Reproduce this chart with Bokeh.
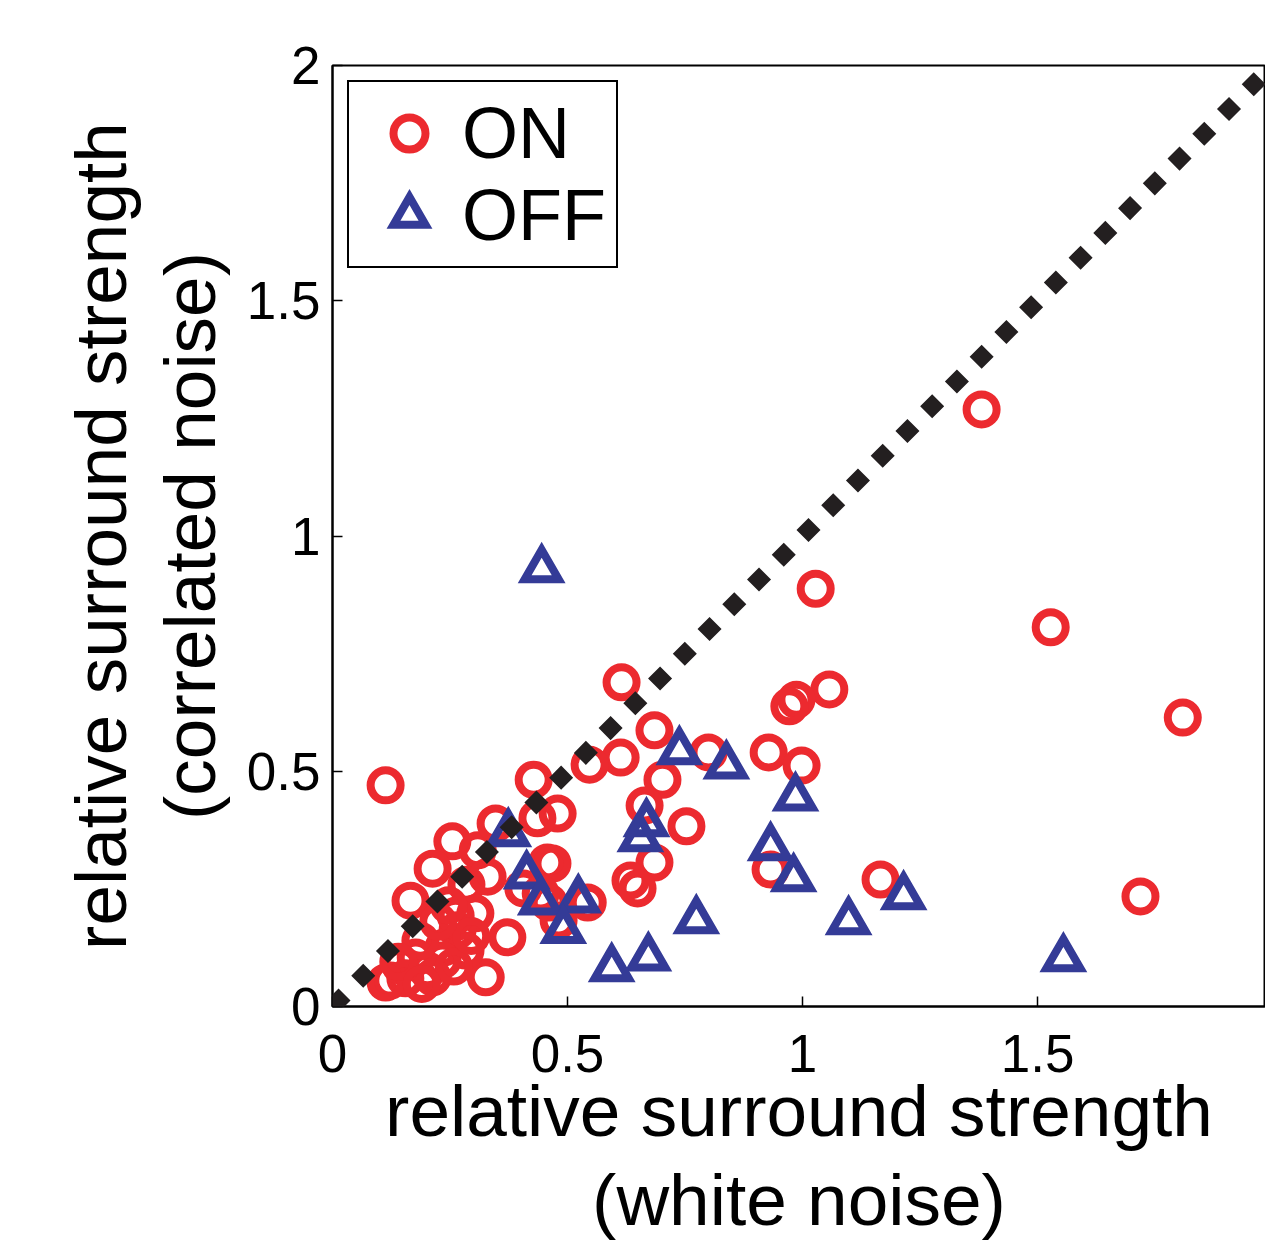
from bokeh.plotting import figure
from bokeh.models import Range1d, FixedTicker, Slope, Legend, LegendItem
from bokeh.embed import file_html
from bokeh.resources import INLINE

# ---- data ----
on_x = [1.381, 1.028, 1.528, 1.809, 1.719, 1.057, 0.987, 0.972, 0.615, 0.685,
        0.800, 0.928, 0.998, 0.613, 0.547, 0.702, 0.428, 0.664, 0.753, 0.113,
        0.932, 1.166, 0.685, 0.634, 0.649, 0.479, 0.436, 0.372, 0.326, 0.457,
        0.255, 0.309, 0.213, 0.347, 0.285, 0.166, 0.304, 0.266, 0.236, 0.283,
        0.177, 0.202, 0.234, 0.123, 0.155, 0.213, 0.145, 0.187, 0.406, 0.460,
        0.481, 0.543, 0.468, 0.443, 0.262, 0.113, 0.247, 0.330, 0.140, 0.258,
        0.190, 0.295, 0.225]
on_y = [1.269, 0.888, 0.806, 0.614, 0.234, 0.674, 0.652, 0.638, 0.689, 0.587,
        0.540, 0.540, 0.512, 0.529, 0.514, 0.482, 0.482, 0.427, 0.383, 0.470,
        0.291, 0.270, 0.306, 0.268, 0.251, 0.410, 0.400, 0.147, 0.062, 0.306,
        0.351, 0.332, 0.293, 0.389, 0.259, 0.225, 0.198, 0.162, 0.125, 0.119,
        0.104, 0.077, 0.098, 0.055, 0.060, 0.062, 0.087, 0.140, 0.251, 0.221,
        0.183, 0.221, 0.304, 0.240, 0.193, 0.051, 0.215, 0.276, 0.095, 0.085,
        0.048, 0.150, 0.180]

off_x = [0.445, 0.738, 0.838, 0.985, 0.668, 0.655, 0.932, 0.981, 0.774, 0.672,
         0.594, 0.374, 0.413, 0.523, 0.443, 0.491, 1.098, 1.215, 1.555]
off_y = [0.929, 0.542, 0.512, 0.444, 0.389, 0.357, 0.338, 0.272, 0.183, 0.104,
         0.081, 0.368, 0.278, 0.227, 0.223, 0.162, 0.181, 0.234, 0.102]

x_ticks = [0, 0.5, 1, 1.5, 2]
x_tick_labels = ["0", "0.5", "1", "1.5", "2"]
y_ticks = [0, 0.5, 1, 1.5, 2]
y_tick_labels = ["0", "0.5", "1", "1.5", "2"]

x_label = "relative surround strength\n(white noise)"
y_label = "relative surround strength\n(correlated noise)"
series_labels = ["ON", "OFF"]

RED = "#EC2A2F"
BLUE = "#343B97"
DARK = "#231F20"
FONT = "Liberation Sans"

p = figure(width=1265, height=1242,
           x_range=Range1d(0, 1.985), y_range=Range1d(0, 2),
           output_backend="svg", toolbar_location=None,
           min_border_left=332, min_border_right=0,
           min_border_top=65, min_border_bottom=236)

p.grid.visible = False
p.background_fill_color = "white"
p.border_fill_color = "white"
p.outline_line_color = "black"
p.outline_line_width = 2

def style_axis(ax, ticks, labels):
    ax.ticker = FixedTicker(ticks=ticks)
    ax.major_label_overrides = {t: l for t, l in zip(ticks, labels)}
    ax.major_tick_in = 10
    ax.major_tick_out = 0
    ax.major_tick_line_width = 1.5
    ax.major_tick_line_color = "black"
    ax.minor_tick_line_color = None
    ax.axis_line_width = 2
    ax.axis_line_color = "black"
    ax.major_label_text_font = FONT
    ax.major_label_text_color = "black"
    ax.major_label_text_font_size = "53px"

xa = p.xaxis[0]
ya = p.yaxis[0]
style_axis(xa, x_ticks, x_tick_labels)
style_axis(ya, y_ticks, y_tick_labels)
xa.major_label_standoff = 28
ya.major_label_standoff = 12
for ax, lab in ((xa, x_label), (ya, y_label)):
    ax.axis_label = lab
    ax.axis_label_text_font = FONT
    ax.axis_label_text_font_size = "73px"
    ax.axis_label_text_font_style = "normal"
    ax.axis_label_text_color = "black"
    ax.axis_label_text_line_height = 1.1
xa.axis_label_standoff = -5
ya.axis_label_standoff = 14

r_on = p.scatter(on_x, on_y, marker="circle", size=30, fill_color=None,
                 line_color=RED, line_width=8)
r_off = p.scatter(off_x, off_y, marker="triangle", size=34, fill_color=None,
                  line_color=BLUE, line_width=8, line_join="miter")

diag = Slope(gradient=1, y_intercept=0, line_color=DARK, line_width=17,
             line_dash="17 18", line_cap="butt")
p.add_layout(diag)

legend = Legend(items=[LegendItem(label=series_labels[0], renderers=[r_on]),
                       LegendItem(label=series_labels[1], renderers=[r_off])],
                location="top_left", margin=15, padding=10, spacing=0,
                glyph_width=100, glyph_height=80, label_standoff=3,
                label_text_font=FONT, label_text_font_size="72px",
                label_text_color="black",
                border_line_color="black", border_line_width=2,
                border_line_alpha=1,
                background_fill_color="white", background_fill_alpha=1)
p.add_layout(legend)

open("out.html", "w").write(file_html(p, INLINE))
